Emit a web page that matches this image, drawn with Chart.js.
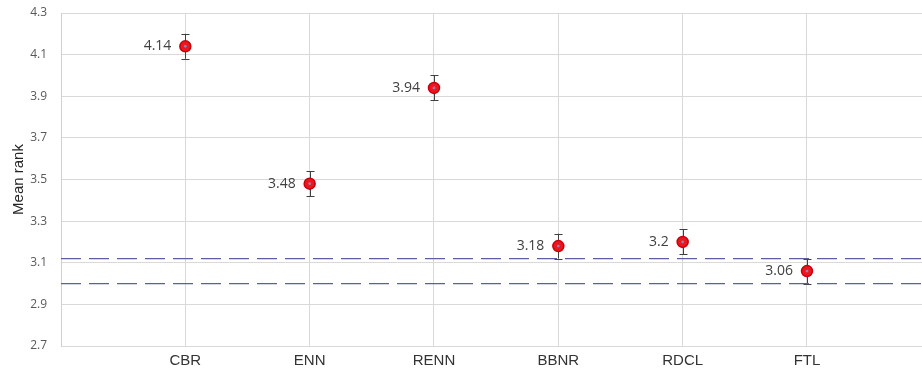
<!DOCTYPE html>
<html>
<head>
<meta charset="utf-8">
<style>
  html, body { margin: 0; padding: 0; background: #ffffff; }
  #wrap { width: 922px; height: 373px; position: relative; }
</style>
<script src="https://cdn.jsdelivr.net/npm/chart.js@4/dist/chart.umd.min.js"></script>
</head>
<body>
<div id="wrap"><canvas id="chart" width="922" height="373"></canvas></div>
<script>
// Methods compared, their mean ranks and the half-width of each error bar
const methods = ['CBR', 'ENN', 'RENN', 'BBNR', 'RDCL', 'FTL'];
const meanRanks = [4.14, 3.48, 3.94, 3.18, 3.2, 3.06];
const errors = [0.06, 0.06, 0.06, 0.06, 0.06, 0.06];
const valueLabels = ['4.14', '3.48', '3.94', '3.18', '3.2', '3.06'];
// Horizontal reference band (dashed lines)
const bandLines = [3.12, 3.0];
// Y axis ticks
const yTicks = [2.7, 2.9, 3.1, 3.3, 3.5, 3.7, 3.9, 4.1, 4.3];

const points = methods.map((m, i) => ({ x: i + 1, y: meanRanks[i] }));

const bandDatasets = bandLines.map(v => ({
  type: 'line',
  data: [{ x: 0, y: v }, { x: 8, y: v }],
  borderColor: '#5a5ea6',
  borderWidth: 1.3,
  borderDash: [20, 8],
  pointRadius: 0,
  fill: false,
  order: 2
}));

// Error bars under the markers, value labels and marker centres above
const markerExtras = {
  id: 'markerExtras',
  beforeDatasetsDraw(chart) {
    const { ctx, scales: { x, y } } = chart;
    ctx.save();
    ctx.strokeStyle = '#404040';
    ctx.lineWidth = 1;
    methods.forEach((m, i) => {
      const px = Math.round(x.getPixelForValue(i + 1)) + 0.5;
      const top = y.getPixelForValue(meanRanks[i] + errors[i]);
      const bot = y.getPixelForValue(meanRanks[i] - errors[i]);
      ctx.beginPath();
      ctx.moveTo(px, top); ctx.lineTo(px, bot);
      ctx.moveTo(px - 4, Math.round(top) + 0.5); ctx.lineTo(px + 4, Math.round(top) + 0.5);
      ctx.moveTo(px - 4, Math.round(bot) + 0.5); ctx.lineTo(px + 4, Math.round(bot) + 0.5);
      ctx.stroke();
    });
    ctx.restore();
  },
  afterDatasetsDraw(chart) {
    const { ctx, scales: { x, y } } = chart;
    ctx.save();
    ctx.font = '14px "Open Sans", sans-serif';
    ctx.textAlign = 'right';
    ctx.textBaseline = 'middle';
    methods.forEach((m, i) => {
      const px = x.getPixelForValue(i + 1);
      const py = y.getPixelForValue(meanRanks[i]);
      ctx.fillStyle = '#404040';
      ctx.fillText(valueLabels[i], px - 14, py);
      ctx.beginPath();
      ctx.fillStyle = '#9a7fa6';
      ctx.arc(px, py, 1.4, 0, Math.PI * 2);
      ctx.fill();
    });
    ctx.restore();
  }
};

new Chart(document.getElementById('chart'), {
  type: 'scatter',
  data: {
    datasets: [
      {
        data: points,
        pointRadius: 5.5,
        pointHoverRadius: 5.5,
        pointBackgroundColor: '#ec1620',
        pointBorderColor: '#c8000a',
        pointBorderWidth: 1.5,
        order: 1
      },
      ...bandDatasets
    ]
  },
  options: {
    responsive: false,
    animation: false,
    layout: { autoPadding: false, padding: { top: 13, right: 0, left: 0, bottom: 0 } },
    plugins: { legend: { display: false }, tooltip: { enabled: false } },
    scales: {
      x: {
        type: 'linear',
        min: 0,
        max: 6.925,
        afterBuildTicks: s => { s.ticks = [0, 1, 2, 3, 4, 5, 6].map(v => ({ value: v })); },
        afterFit: s => { s.height = 27; s.paddingLeft = 0; s.paddingRight = 0; },
        grid: { color: '#d9d9d9', lineWidth: 1, drawTicks: false },
        border: { color: '#d9d9d9' },
        ticks: {
          padding: 6,
          color: '#333333',
          font: { family: '"Liberation Sans", Arial, sans-serif', size: 15 },
          callback: v => (v >= 1 && v <= methods.length) ? methods[v - 1] : ''
        }
      },
      y: {
        min: 2.7,
        max: 4.3,
        afterBuildTicks: s => { s.ticks = yTicks.map(v => ({ value: v })); },
        afterFit: s => { s.width = 61; s.paddingTop = 0; s.paddingBottom = 0; },
        grid: { color: '#d9d9d9', lineWidth: 1, drawTicks: false },
        border: { color: '#d0d0d0' },
        ticks: {
          padding: 14,
          color: '#595959',
          font: { family: '"Open Sans", sans-serif', size: 12 },
          callback: v => v.toFixed(1)
        },
        title: {
          display: true,
          text: 'Mean rank',
          color: '#262626',
          padding: { top: 10, bottom: 0 },
          font: { family: '"Liberation Sans", Arial, sans-serif', size: 15 }
        }
      }
    }
  },
  plugins: [markerExtras]
});
</script>
</body>
</html>
